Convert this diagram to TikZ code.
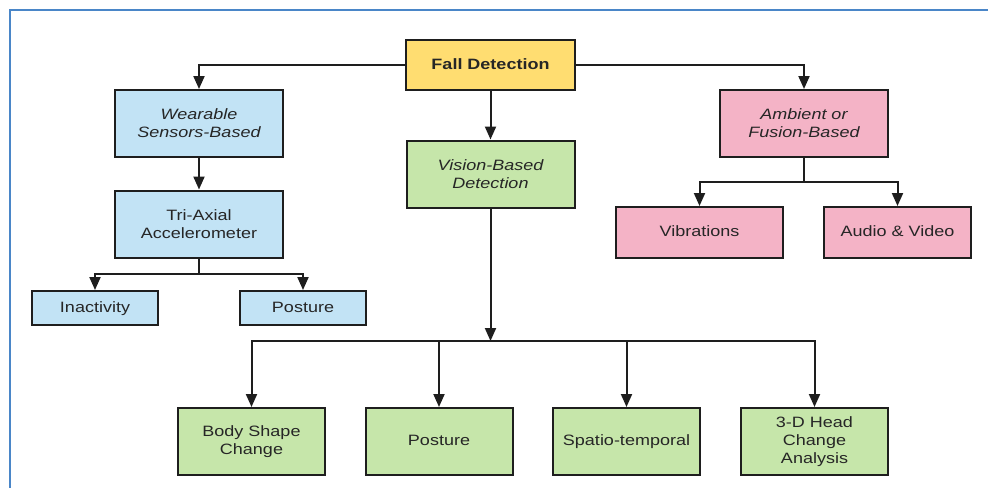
\documentclass[tikz,border=0pt]{standalone}
\usepackage{fontspec}
\setmainfont{Liberation Sans}[FakeStretch=1.2]
\usetikzlibrary{arrows.meta}
\definecolor{frameblue}{HTML}{4A86C8}
\definecolor{lineblk}{HTML}{1E1E1E}
\definecolor{fyellow}{HTML}{FFDD71}
\definecolor{fblue}{HTML}{C2E3F5}
\definecolor{fpink}{HTML}{F4B3C6}
\definecolor{fgreen}{HTML}{C6E6AA}
\tikzset{
  box/.style={draw=lineblk, line width=2pt, align=center, inner sep=0pt,
    font=\fontsize{15}{18}\selectfont, text=black!85},
  one/.style={text height=11pt, text depth=3pt},
  big/.style={box, minimum width=168pt, minimum height=67pt},
  leaf/.style={box, one, minimum width=126pt, minimum height=34pt},
  mid/.style={box, one, minimum width=167pt, minimum height=51pt},
  low/.style={box, minimum width=147pt, minimum height=67pt},
  arr/.style={draw=lineblk, line width=2pt, -{Triangle[length=13pt,width=11pt]}},
  ln/.style={draw=lineblk, line width=2pt},
}
\begin{document}
\begin{tikzpicture}[x=1pt,y=-1pt]
\useasboundingbox (0,0) rectangle (988,488);
\fill[white] (0,0) rectangle (988,488);
\draw[frameblue, line width=2pt] (988,9.5) -- (10,9.5) -- (10,488);

\node[box, one, fill=fyellow, minimum width=169pt, minimum height=50pt, font=\fontsize{15}{18}\selectfont\bfseries] (fall) at (490.5,65) {Fall Detection};
\node[big, fill=fblue] (wear) at (199,123.5) {\itshape Wearable\\\itshape Sensors-Based};
\node[big, fill=fgreen] (vis) at (490.5,174) {\itshape Vision-Based\\\itshape Detection};
\node[big, fill=fpink] (amb) at (804,123.5) {\itshape Ambient or\\\itshape Fusion-Based};
\node[big, fill=fblue] (tri) at (199,224) {Tri-Axial\\Accelerometer};
\node[leaf, fill=fblue] (inact) at (95,308) {Inactivity};
\node[leaf, fill=fblue] (post1) at (303,308) {Posture};
\node[mid, fill=fpink] (vib) at (699.5,232.5) {Vibrations};
\node[mid, fill=fpink, minimum width=147pt] (av) at (897.5,232.5) {Audio \& Video};
\node[low, fill=fgreen] (body) at (251.5,441.5) {Body Shape\\Change};
\node[low, one, fill=fgreen] (post2) at (439,441.5) {Posture};
\node[low, one, fill=fgreen] (spat) at (626.5,441.5) {Spatio-temporal};
\node[low, fill=fgreen] (head) at (814.5,441.5) {3-D Head\\Change\\Analysis};

\coordinate (tribus) at (199,274);
\coordinate (ambbus) at (804,182);
\coordinate (visbus) at (490.5,341);

\draw[arr] (fall.west) -| (wear.north);
\draw[arr] (fall.east) -| (amb.north);
\draw[arr] (fall.south) -- (vis.north);
\draw[arr] (wear.south) -- (tri.north);
\draw[ln] (tri.south) -- (tribus);
\draw[arr] (tribus) -| (inact.north);
\draw[arr] (tribus) -| (post1.north);
\draw[ln] (amb.south) -- (ambbus);
\draw[arr] (ambbus) -| (vib.north);
\draw[arr] (ambbus) -| (av.north);
\draw[arr] (vis.south) -- (visbus);
\draw[arr] (visbus) -| (body.north);
\draw[arr] (visbus) -| (post2.north);
\draw[arr] (visbus) -| (spat.north);
\draw[arr] (visbus) -| (head.north);
\end{tikzpicture}
\end{document}
